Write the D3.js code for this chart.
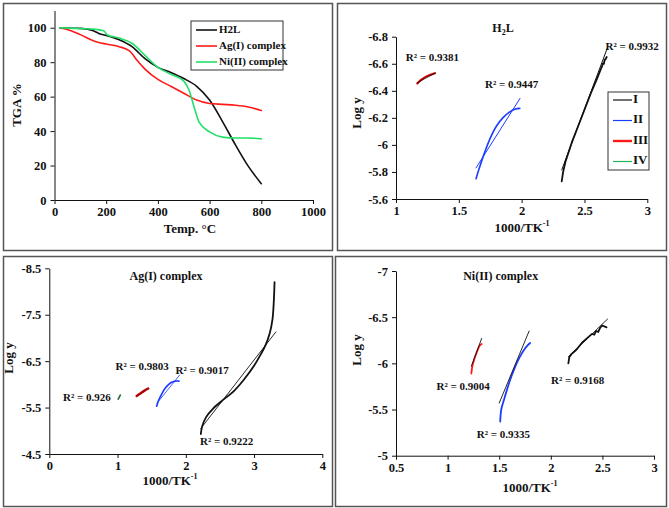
<!DOCTYPE html>
<html>
<head>
<meta charset="utf-8">
<script src="https://cdn.jsdelivr.net/npm/d3@7"></script>
<style>
  body { margin: 0; background: #fff; }
  svg text { font-family: "Liberation Serif", "Times New Roman", serif; font-weight: bold; fill: #111; }
  .axis path, .axis line { stroke: #111; stroke-width: 1; }
  .axis text { font-size: 12.5px; }
</style>
</head>
<body>
<div id="chart"></div>
<script>
// ---- TGA panel data (temperature in °C, mass %) ----
const tgaH2L = [[20,100],[100,99.6],[150,98.3],[180,96.2],[200,95.5],[250,93],[300,89],[350,82],[400,77],[450,74],[500,70.5],[550,66],[600,58],[650,45.5],[700,32],[750,19.5],[800,9.5]];
const tgaAg = [[20,100],[50,99],[100,96],[150,92.5],[200,90.5],[250,89],[290,86.5],[320,81],[350,76],[400,70],[450,66],[500,62],[550,58],[600,56],[650,55.5],[700,55],[750,54],[800,52]];
const tgaNi = [[20,100],[100,99.5],[150,99.2],[190,98.3],[205,95.8],[250,94],[300,91],[350,84],[400,77],[450,73],[500,69],[520,64],[540,54],[560,45],[600,39.5],[650,36.5],[700,36],[750,36],[800,35.5]];
const tgaSeries = ["H2L", "Ag(I) complex", "Ni(II) complex"];

// ---- H2L kinetic data (1000/T, log y) ----
const h2lI = [[2.319,-5.73],[2.33,-5.8],[2.35,-5.88],[2.4,-6.02],[2.45,-6.14],[2.5,-6.26],[2.55,-6.38],[2.6,-6.49],[2.63,-6.56],[2.64,-6.58],[2.645,-6.6],[2.655,-6.6],[2.66,-6.63],[2.665,-6.63],[2.677,-6.65]];
const h2lIFit = [[2.319,-5.815],[2.686,-6.726]];
const h2lII = [[1.637,-5.75],[1.66,-5.82],[1.7,-5.93],[1.75,-6.05],[1.8,-6.14],[1.85,-6.2],[1.9,-6.24],[1.95,-6.265],[1.985,-6.27]];
const h2lIIFit = [[1.637,-5.83],[1.987,-6.344]];
const h2lIII = [[1.17,-6.455],[1.2,-6.48],[1.24,-6.505],[1.28,-6.52],[1.31,-6.53]];
const h2lIIIFit = [[1.17,-6.46],[1.31,-6.53]];
const h2lLabels = [["R² = 0.9381",1.29,-6.64],["R² = 0.9447",1.92,-6.44],["R² = 0.9932",2.88,-6.72]];
const stageNames = ["I", "II", "III", "IV"];

// ---- Ag(I) complex kinetic data ----
const agBlack = [[2.22,-4.93],[2.24,-5.1],[2.3,-5.3],[2.4,-5.48],[2.55,-5.67],[2.7,-5.85],[2.85,-6.1],[3.0,-6.4],[3.1,-6.65],[3.17,-6.85],[3.23,-7.1],[3.27,-7.4],[3.29,-7.8],[3.3,-8.2]];
const agBlackFit = [[2.22,-5.05],[3.32,-7.13]];
const agBlue = [[1.573,-5.53],[1.6,-5.65],[1.65,-5.8],[1.7,-5.92],[1.75,-6.0],[1.8,-6.05],[1.85,-6.07],[1.9,-6.07]];
const agBlueFit = [[1.58,-5.6],[1.91,-6.2]];
const agRed = [[1.28,-5.75],[1.33,-5.8],[1.39,-5.86],[1.45,-5.91]];
const agGreen = [[1.01,-5.68],[1.04,-5.77]];
const agLabels = [["R² = 0.926",0.55,-5.7],["R² = 0.9803",1.36,-6.37],["R² = 0.9017",2.24,-6.27],["R² = 0.9222",2.6,-4.74]];

// ---- Ni(II) complex kinetic data ----
const niRed = [[1.23,-5.89],[1.24,-5.97],[1.26,-6.05],[1.29,-6.14],[1.31,-6.19],[1.33,-6.21]];
const niRedFit = [[1.23,-5.97],[1.33,-6.27]];
const niBlue = [[1.51,-5.37],[1.52,-5.5],[1.55,-5.62],[1.6,-5.8],[1.65,-5.95],[1.7,-6.07],[1.75,-6.16],[1.78,-6.2],[1.8,-6.22]];
const niBlueFit = [[1.5,-5.57],[1.79,-6.35]];
const niBlack = [[2.17,-6.0],[2.18,-6.07],[2.2,-6.1],[2.25,-6.15],[2.3,-6.22],[2.35,-6.27],[2.38,-6.3],[2.4,-6.32],[2.42,-6.31],[2.44,-6.35],[2.46,-6.34],[2.48,-6.39],[2.5,-6.41],[2.54,-6.39]];
const niBlackFit = [[2.17,-6.07],[2.55,-6.48]];
const niLabels = [["R² = 0.9004",1.15,-5.74],["R² = 0.9335",1.54,-5.22],["R² = 0.9168",2.26,-5.8]];

const W = 669, H = 508;
const fmt = d => String(+d.toFixed(2));

const svg = d3.select('#chart').append('svg')
  .attr('width', W).attr('height', H);

// panel frames
const frames = [[3,3,329,247],[337,3,329,247],[3,256,329,250],[335,256,331,250]];
svg.selectAll('.frame').data(frames).join('rect')
  .attr('class', 'frame')
  .attr('x', d => d[0] + 0.5).attr('y', d => d[1] + 0.5)
  .attr('width', d => d[2]).attr('height', d => d[3])
  .attr('fill', 'none').attr('stroke', '#555').attr('stroke-width', 1.5);

function makePanel(cfg) {
  const x = d3.scaleLinear().domain(cfg.xDomain).range(cfg.xRange);
  const y = d3.scaleLinear().domain(cfg.yDomain).range(cfg.yRange);
  const g = svg.append('g');

  g.append('g').attr('class', 'axis')
    .attr('transform', `translate(0,${cfg.yRange[0]})`)
    .call(d3.axisBottom(x).tickValues(cfg.xTicks).tickFormat(fmt).tickSize(4).tickSizeOuter(0).tickPadding(3));
  g.append('g').attr('class', 'axis')
    .attr('transform', `translate(${cfg.xRange[0]},0)`)
    .call(d3.axisLeft(y).tickValues(cfg.yTicks).tickFormat(fmt).tickSize(4).tickSizeOuter(0).tickPadding(4));
  g.selectAll('.axis .domain').attr('stroke-width', 1.2);

  if (cfg.title) {
    const t = g.append('text').attr('x', cfg.title[1]).attr('y', cfg.title[2])
      .attr('text-anchor', 'middle').attr('dominant-baseline', 'middle').style('font-size', '12px');
    cfg.title[0](t);
  }
  // x label
  const xl = g.append('text').attr('x', cfg.xLabel[1]).attr('y', cfg.xLabel[2])
    .attr('text-anchor', 'middle').attr('dominant-baseline', 'middle').style('font-size', '13px');
  cfg.xLabel[0](xl);
  g.append('text')
    .attr('transform', `translate(${cfg.yLabel[1]},${cfg.yLabel[2]}) rotate(-90)`)
    .attr('text-anchor', 'middle').attr('dominant-baseline', 'middle').style('font-size', '13px')
    .text(cfg.yLabel[0]);

  return {g, x, y};
}

function tkLabel(t) {
  t.text('1000/TK');
  t.append('tspan').attr('dy', -5).style('font-size', '8px').text('-1');
}

function drawLine(p, data, color, width, curve) {
  const line = d3.line().x(d => p.x(d[0])).y(d => p.y(d[1])).curve(curve || d3.curveCatmullRom);
  p.g.append('path').datum(data)
    .attr('d', line).attr('fill', 'none')
    .attr('stroke', color).attr('stroke-width', width)
    .attr('stroke-linecap', 'round').attr('stroke-linejoin', 'round');
}

function drawLabels(p, labels) {
  p.g.selectAll('.rlab').data(labels).join('text')
    .attr('class', 'rlab')
    .attr('x', d => p.x(d[1])).attr('y', d => p.y(d[2]))
    .attr('text-anchor', 'middle').attr('dominant-baseline', 'middle')
    .style('font-size', '11px')
    .text(d => d[0]);
}

// ---------- Panel 1: TGA ----------
const p1 = makePanel({
  xDomain: [0, 1000], xRange: [54.5, 313],
  yDomain: [0, 110], yRange: [200, 10.5],
  xTicks: d3.range(0, 1001, 200), yTicks: d3.range(0, 101, 20),
  xLabel: [t => t.text('Temp. °C'), 190, 230],
  yLabel: ['TGA %', 18, 105]
});
const tgaColors = ['#111', '#ff1a1a', '#22e06a'];
[tgaH2L, tgaAg, tgaNi].forEach((s, i) => drawLine(p1, s, tgaColors[i], 1.6, d3.curveMonotoneX));

const leg1 = p1.g.append('g').attr('transform', 'translate(191,21)');
leg1.append('rect').attr('width', 92).attr('height', 49)
  .attr('fill', '#fff').attr('stroke', '#333').attr('stroke-width', 1);
leg1.selectAll('.it').data(tgaSeries).join('g')
  .attr('class', 'it')
  .attr('transform', (d, i) => `translate(0,${9 + i * 16})`)
  .call(s => {
    s.append('line').attr('x1', 5).attr('x2', 26)
      .attr('stroke', (d, i) => tgaColors[i]).attr('stroke-width', 1.6);
    s.append('text').attr('x', 28).attr('dominant-baseline', 'middle')
      .style('font-size', '11px').text(d => d);
  });

// ---------- Panel 2: H2L ----------
const p2 = makePanel({
  xDomain: [1, 3], xRange: [396, 647.3],
  yDomain: [-5.6, -6.8], yRange: [199, 36.7],
  xTicks: [1, 1.5, 2, 2.5, 3], yTicks: [-5.6, -5.8, -6, -6.2, -6.4, -6.6, -6.8],
  title: [t => { t.text('H'); t.append('tspan').attr('dy', 4).style('font-size', '8px').text('2'); t.append('tspan').attr('dy', -4).text('L'); }, 503, 29],
  xLabel: [tkLabel, 522, 229],
  yLabel: ['Log y', 358, 113]
});
drawLine(p2, h2lIII, '#c00000', 2.2);
drawLine(p2, h2lIIIFit, '#3a1010', 0.8, d3.curveLinear);
drawLine(p2, h2lII, '#1a3cff', 1.6);
drawLine(p2, h2lIIFit, '#1a3cff', 1, d3.curveLinear);
drawLine(p2, h2lI, '#111', 1.8, d3.curveLinear);
drawLine(p2, h2lIFit, '#111', 1, d3.curveLinear);
drawLabels(p2, h2lLabels);

const stageColors = ['#111', '#1a3cff', '#ff1a1a', '#1fb35a'];
const stageWidths = [1.2, 1.2, 2.4, 1.2];
const leg2 = p2.g.append('g').attr('transform', 'translate(608,92)');
leg2.append('rect').attr('width', 41).attr('height', 78)
  .attr('fill', '#fff').attr('stroke', '#333').attr('stroke-width', 1);
leg2.selectAll('.it').data(stageNames).join('g')
  .attr('class', 'it')
  .attr('transform', (d, i) => `translate(0,${8 + i * 20.5})`)
  .call(s => {
    s.append('line').attr('x1', 5).attr('x2', 24)
      .attr('stroke', (d, i) => stageColors[i]).attr('stroke-width', (d, i) => stageWidths[i]);
    s.append('text').attr('x', 25).attr('dominant-baseline', 'middle')
      .style('font-size', '13px').text(d => d);
  });

// ---------- Panel 3: Ag(I) complex ----------
const p3 = makePanel({
  xDomain: [0, 4], xRange: [49.3, 322.3],
  yDomain: [-4.5, -8.5], yRange: [454, 268.3],
  xTicks: [0, 1, 2, 3, 4], yTicks: [-4.5, -5.5, -6.5, -7.5, -8.5],
  title: [t => t.text('Ag(I) complex'), 166, 277],
  xLabel: [tkLabel, 170, 482],
  yLabel: ['Log y', 10, 358]
});
drawLine(p3, agGreen, '#1f6b3a', 1.6, d3.curveLinear);
drawLine(p3, agRed, '#b00000', 2.4);
drawLine(p3, agBlue, '#1a3cff', 1.6);
drawLine(p3, agBlueFit, '#1a3cff', 0.8, d3.curveLinear);
drawLine(p3, agBlack, '#111', 1.8);
drawLine(p3, agBlackFit, '#111', 0.9, d3.curveLinear);
drawLabels(p3, agLabels);

// ---------- Panel 4: Ni(II) complex ----------
const p4 = makePanel({
  xDomain: [0.5, 3], xRange: [396, 654],
  yDomain: [-5, -7], yRange: [455.7, 271],
  xTicks: [0.5, 1, 1.5, 2, 2.5, 3], yTicks: [-5, -5.5, -6, -6.5, -7],
  title: [t => t.text('Ni(II) complex'), 500.7, 277.7],
  xLabel: [tkLabel, 530, 489],
  yLabel: ['Log y', 358, 350]
});
drawLine(p4, niRed, '#ff1a1a', 1.8);
drawLine(p4, niRedFit, '#111', 0.9, d3.curveLinear);
drawLine(p4, niBlue, '#1a3cff', 1.8);
drawLine(p4, niBlueFit, '#111', 0.9, d3.curveLinear);
drawLine(p4, niBlack, '#111', 1.8, d3.curveLinear);
drawLine(p4, niBlackFit, '#111', 0.9, d3.curveLinear);
drawLabels(p4, niLabels);
</script>
</body>
</html>
